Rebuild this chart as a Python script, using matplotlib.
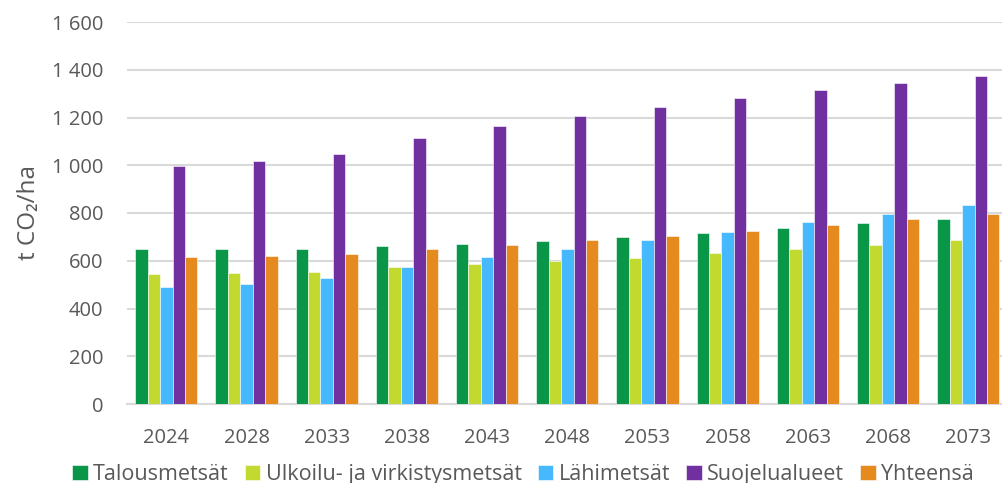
"""Hiilivarasto metsätyypeittäin, t CO2/ha."""
import matplotlib
matplotlib.use("Agg")
import matplotlib.pyplot as plt
import matplotlib.ticker as mticker
import numpy as np

YEARS = ["2024", "2028", "2033", "2038", "2043", "2048", "2053", "2058", "2063", "2068", "2073"]

TALOUSMETSAT = [649, 648, 649, 662, 671, 683, 698, 716, 736, 757, 775]
ULKOILU = [544, 549, 553, 574, 586, 599, 611, 631, 648, 667, 685]
LAHIMETSAT = [491, 504, 528, 575, 614, 651, 687, 722, 761, 797, 835]
SUOJELUALUEET = [998, 1016, 1047, 1113, 1163, 1206, 1244, 1280, 1314, 1344, 1372]
YHTEENSA = [617, 620, 628, 648, 666, 686, 705, 726, 750, 775, 797]

SERIES = [
    ("Talousmetsät", TALOUSMETSAT, "#0a9648"),
    ("Ulkoilu- ja virkistysmetsät", ULKOILU, "#c2d930"),
    ("Lähimetsät", LAHIMETSAT, "#45b8fe"),
    ("Suojelualueet", SUOJELUALUEET, "#7030a0"),
    ("Yhteensä", YHTEENSA, "#e58a1e"),
]

TEXT = "#595959"
GRID = "#d9d9d9"

plt.rcParams["font.family"] = ["Open Sans", "DejaVu Sans"]

fig = plt.figure(figsize=(10.02, 4.83), dpi=100)
ax = fig.add_axes([127 / 1002, 1 - 404 / 483, 1 - 127 / 1002, (404 - 22) / 483])

x = np.arange(len(YEARS))
width = 0.155
for i, (name, values, color) in enumerate(SERIES):
    offset = (i - 2) * width
    ax.bar(x + offset, values, width, color=color, label=name,
           edgecolor="white", linewidth=0.4, zorder=3)

ax.set_ylim(0, 1600)
ax.set_xlim(-0.49, 10.42)
ax.yaxis.set_major_locator(mticker.MultipleLocator(200))
ax.yaxis.set_major_formatter(
    mticker.FuncFormatter(lambda v, _: f"{int(v):,}".replace(",", " "))
)
ax.grid(axis="y", color=GRID, linewidth=1.5, zorder=0)
ax.set_xticks(x)
ax.set_xticklabels(YEARS)
ax.tick_params(axis="both", length=0, colors=TEXT, labelsize=14.5)
ax.tick_params(axis="x", pad=17)
ax.tick_params(axis="y", pad=17)
for side in ["top", "right", "left"]:
    ax.spines[side].set_visible(False)
ax.spines["bottom"].set_color(GRID)
ax.spines["bottom"].set_linewidth(1.5)

ax.set_ylabel("t CO₂/ha", color=TEXT, fontsize=17.5, labelpad=8)

handles, labels = ax.get_legend_handles_labels()
fig.legend(handles, labels, loc="center", bbox_to_anchor=(0.522, 0.018), ncol=5,
           frameon=False, fontsize=15.5, handlelength=0.72, handleheight=0.72,
           handletextpad=0.25, columnspacing=0.75, labelcolor=TEXT,
           borderpad=0.1)

fig.savefig("out.png", dpi=100)
